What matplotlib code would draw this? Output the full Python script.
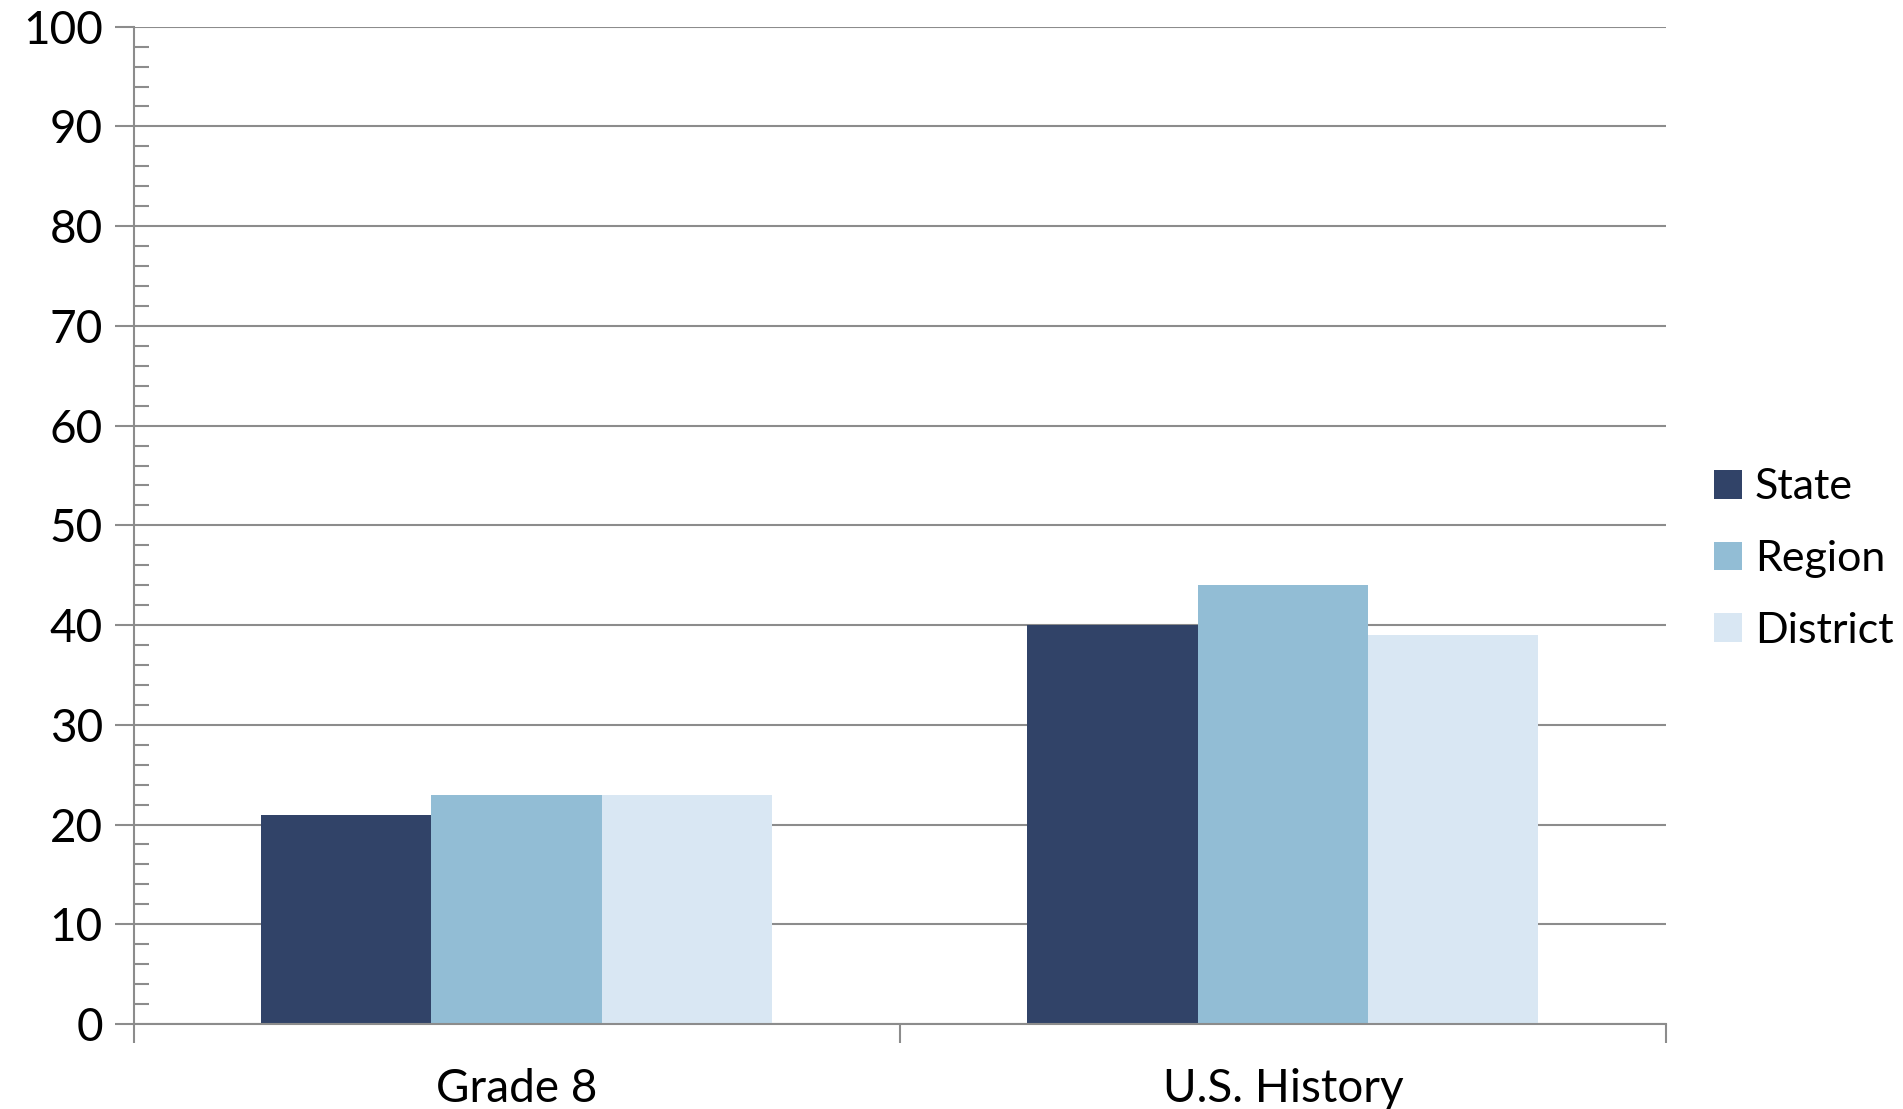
import numpy as np
import matplotlib.pyplot as plt
from matplotlib.patches import Patch
from matplotlib.ticker import MultipleLocator

categories = ["Grade 8", "U.S. History"]
series_names = ["State", "Region", "District"]
state = [21, 40]
region = [23, 44]
district = [23, 39]

colors = ["#314368", "#92bdd5", "#d9e7f3"]
grid_col = "#8c8c8c"

plt.rcParams["font.family"] = ["Lato", "DejaVu Sans"]

fig = plt.figure(figsize=(19.03, 11.09), dpi=100)
ax = fig.add_axes([133.5 / 1903, 1 - 1024 / 1109, (1666 - 133.5) / 1903, (1024 - 26.7) / 1109])

x = np.arange(len(categories))
w = 0.2222
for i, vals in enumerate([state, region, district]):
    ax.bar(x + (i - 1) * w, vals, width=w, color=colors[i], zorder=2, linewidth=0)

ax.set_xlim(-0.5, len(categories) - 0.5)
ax.set_ylim(0, 100)
ax.yaxis.set_major_locator(MultipleLocator(10))
ax.yaxis.set_minor_locator(MultipleLocator(2))
ax.grid(axis="y", which="major", color=grid_col, linewidth=1.5, zorder=1)

for s in ["top", "right"]:
    ax.spines[s].set_visible(False)
for s in ["left", "bottom"]:
    ax.spines[s].set_color(grid_col)
    ax.spines[s].set_linewidth(1.5)
    ax.spines[s].set_zorder(3)

ax.tick_params(axis="y", which="major", direction="out", length=14, width=1.5,
               color=grid_col, labelsize=33, pad=8)
ax.tick_params(axis="y", which="minor", direction="in", length=11, width=1.5, color=grid_col)

# category labels between boundary ticks
ax.set_xticks(np.arange(-0.5, len(categories)), minor=False)
ax.set_xticklabels([])
ax.set_xticks(x, minor=True)
ax.set_xticklabels(categories, minor=True)
ax.tick_params(axis="x", which="major", direction="out", length=14, width=1.5, color=grid_col)
ax.tick_params(axis="x", which="minor", length=0, labelsize=33, pad=32)

handles = [Patch(facecolor=c, edgecolor="none") for c in colors]
fig.legend(handles, series_names, loc="center left", bbox_to_anchor=(1714 / 1903, 1 - 559 / 1109),
           frameon=False, fontsize=31, handlelength=0.65, handleheight=0.65,
           handletextpad=0.3, labelspacing=0.78, borderpad=0, borderaxespad=0)

fig.savefig("out.png", dpi=100)
